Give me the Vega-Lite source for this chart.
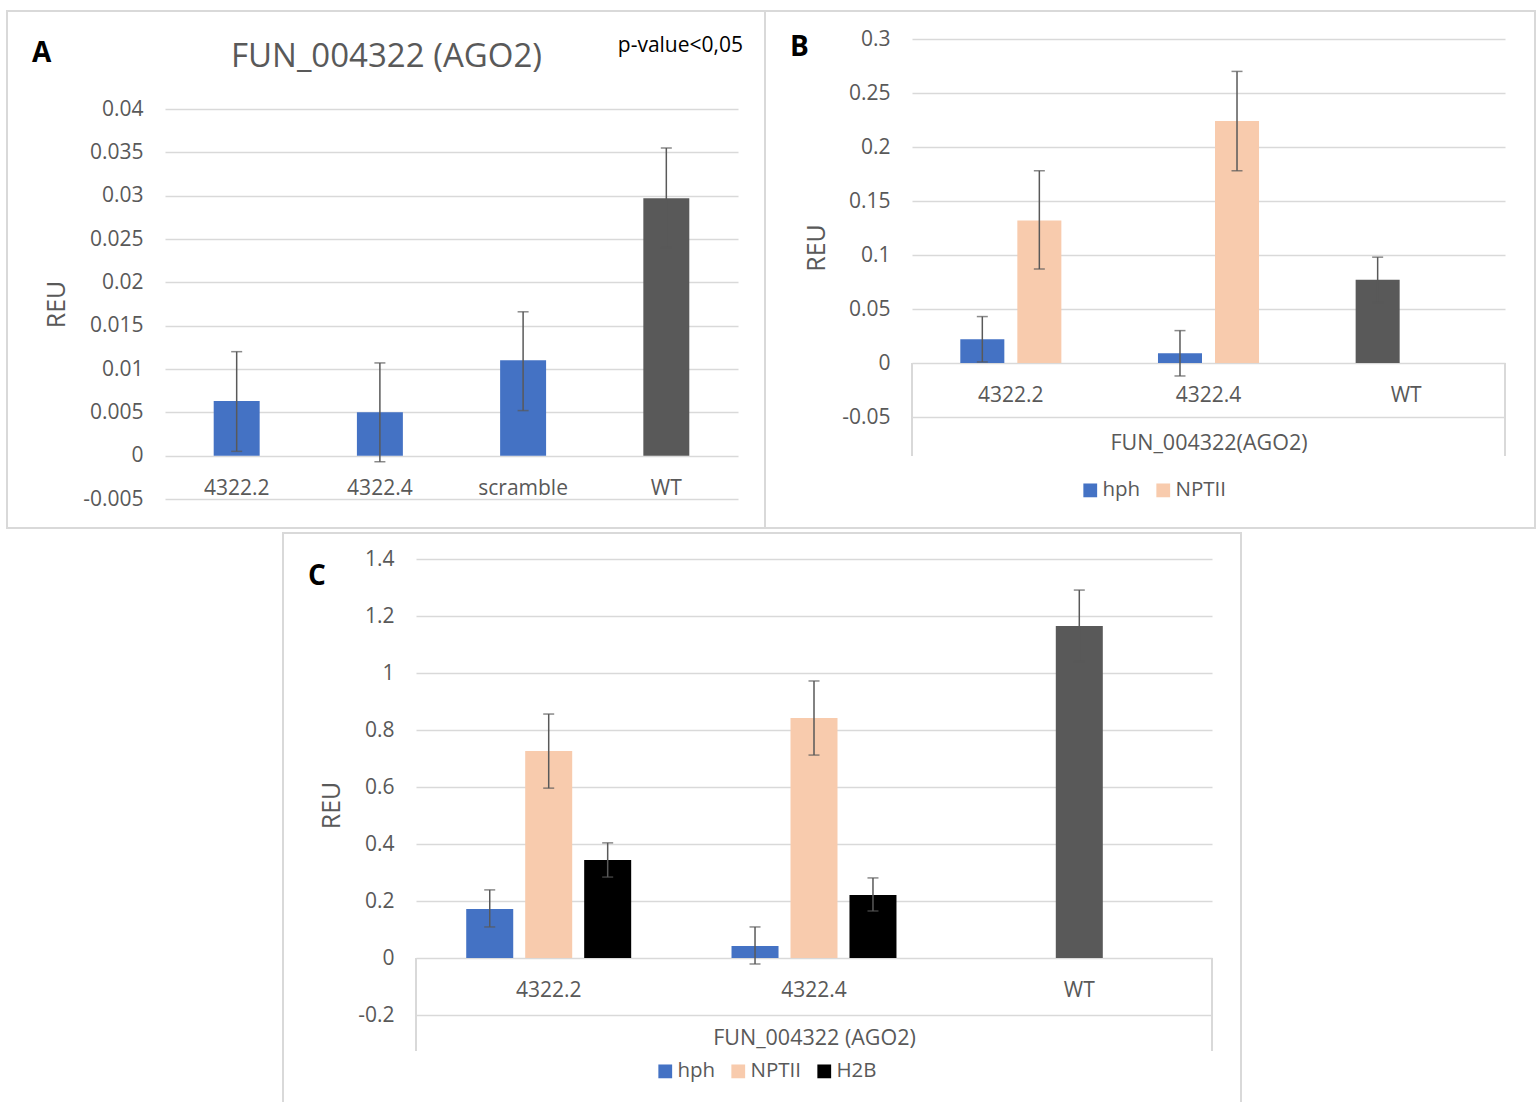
{
  "$schema": "https://vega.github.io/schema/vega-lite/v6.json",
  "padding": {"left": 6, "top": 8, "right": 0, "bottom": 0},
  "background": "white",
  "config": {
    "font": "Open Sans",
    "view": {"stroke": null},
    "axis": {"domain": false, "ticks": false, "gridColor": "#d9d9d9", "gridWidth": 1.5, "labelColor": "#595959", "labelFontSize": 21, "titleColor": "#595959", "titleFontSize": 25, "titleFontWeight": "normal", "labelPadding": 22, "labelFont": "Open Sans", "titleFont": "Open Sans"},
    "legend": {"labelFontSize": 20.5, "labelColor": "#595959", "symbolType": "square", "symbolSize": 190, "symbolStrokeWidth": 0, "title": null, "orient": "none", "direction": "horizontal", "labelOffset": 2, "columnPadding": 12, "padding": 0}
  },
  "resolve": {"scale": {"color": "independent", "xOffset": "independent"}, "legend": {"color": "independent"}},
  "columns": 1,
  "spacing": {"row": 1, "column": 0},
  "concat": [
    {
      "columns": 2,
      "align": "none",
      "spacing": {"row": 0, "column": -2},
      "resolve": {"scale": {"color": "independent", "xOffset": "independent"}, "legend": {"color": "independent"}},
      "concat": [
        {"width": 10, "height": 1, "data": {"values": []}, "mark": "point"},
        {"width": 10, "height": 1, "data": {"values": []}, "mark": "point"},
        {
          "width": 573,
          "height": 390,
          "resolve": {"scale": {"x": "independent"}},
          "layer": [
            {
              "data": {"values": [
                {"sample": "4322.2", "value": 0.0063, "lo": 0.0005, "hi": 0.0120},
                {"sample": "4322.4", "value": 0.0050, "lo": -0.0007, "hi": 0.0107},
                {"sample": "scramble", "value": 0.0110, "lo": 0.0052, "hi": 0.0166},
                {"sample": "WT", "value": 0.0297, "lo": 0.0240, "hi": 0.0355}
              ]},
              "encoding": {
                "x": {"field": "sample", "type": "nominal", "sort": null, "title": null,
                  "scale": {"paddingInner": 0.679, "paddingOuter": 0.34},
                  "axis": {"labelAngle": 0, "offset": -43, "labelPadding": 32, "labelBaseline": "middle", "grid": false}}
              },
              "layer": [
                {"mark": {"type": "bar"},
                 "encoding": {
                   "y": {"field": "value", "type": "quantitative", "title": "REU",
                     "scale": {"domain": [-0.005, 0.04], "nice": false, "zero": false},
                     "axis": {"values": [-0.005, 0, 0.005, 0.01, 0.015, 0.02, 0.025, 0.03, 0.035, 0.04], "titlePadding": 13,
                       "labelExpr": "datum.value < 0 ? '-' + format(-datum.value, '~g') : format(datum.value, '~g')"}},
                   "color": {"condition": {"test": "datum.sample === 'WT'", "value": "#595959"}, "value": "#4472C4"}
                 }},
                {"mark": {"type": "rule", "color": "#595959", "strokeWidth": 1.5},
                 "encoding": {"y": {"field": "lo", "type": "quantitative", "title": "REU"}, "y2": {"field": "hi"}}},
                {"mark": {"type": "tick", "color": "#595959", "thickness": 1.5, "size": 11},
                 "encoding": {"y": {"field": "lo", "type": "quantitative", "title": "REU"}}},
                {"mark": {"type": "tick", "color": "#595959", "thickness": 1.5, "size": 11},
                 "encoding": {"y": {"field": "hi", "type": "quantitative", "title": "REU"}}}
              ]
            },
            {
              "data": {"values": [{}]},
              "mark": {"type": "rect", "fill": "transparent", "stroke": "#d9d9d9", "strokeWidth": 2},
              "encoding": {
                "x": {"datum": -0.27574, "type": "quantitative", "scale": {"domain": [0, 1], "nice": false, "zero": false}, "axis": null},
                "x2": {"datum": 1.04712},
                "y": {"datum": 0.051308},
                "y2": {"datum": -0.008346}
              }
            },
            {
              "data": {"values": [{}]},
              "mark": {"type": "text", "align": "left", "baseline": "alphabetic", "fontSize": 28, "fontWeight": "bold", "color": "#000000"},
              "encoding": {
                "x": {"datum": -0.23211, "type": "quantitative", "scale": {"domain": [0, 1], "nice": false, "zero": false}, "axis": null},
                "y": {"datum": 0.045423},
                "text": {"value": "A"}
              }
            },
            {
              "data": {"values": [{}]},
              "mark": {"type": "text", "align": "center", "baseline": "alphabetic", "fontSize": 33, "color": "#595959"},
              "encoding": {
                "x": {"datum": 0.38656, "type": "quantitative", "scale": {"domain": [0, 1], "nice": false, "zero": false}, "axis": null},
                "y": {"datum": 0.044846},
                "text": {"value": "FUN_004322 (AGO2)"}
              }
            },
            {
              "data": {"values": [{}]},
              "mark": {"type": "text", "align": "right", "baseline": "alphabetic", "fontSize": 21, "color": "#000000"},
              "encoding": {
                "x": {"datum": 1.00873, "type": "quantitative", "scale": {"domain": [0, 1], "nice": false, "zero": false}, "axis": null},
                "y": {"datum": 0.046577},
                "text": {"value": "p-value<0,05"}
              }
            }
          ]
        },
        {
          "width": 593,
          "height": 417,
          "resolve": {"scale": {"x": "independent"}},
          "layer": [
            {
              "data": {"values": [
                {"sample": "4322.2", "series": "hph", "value": 0.022, "lo": 0.001, "hi": 0.043},
                {"sample": "4322.2", "series": "NPTII", "value": 0.132, "lo": 0.087, "hi": 0.178},
                {"sample": "4322.4", "series": "hph", "value": 0.009, "lo": -0.012, "hi": 0.030},
                {"sample": "4322.4", "series": "NPTII", "value": 0.224, "lo": 0.178, "hi": 0.270},
                {"sample": "WT", "series": "hph", "value": 0.077, "lo": 0.056, "hi": 0.098}
              ]},
              "encoding": {
                "x": {"field": "sample", "type": "nominal", "sort": null, "title": "FUN_004322(AGO2)",
                  "scale": {"domain": ["4322.2", "4322.4", "WT"], "paddingInner": 0.423, "paddingOuter": 0.2115},
                  "axis": {"labelAngle": 0, "offset": -93, "labelPadding": 32, "labelBaseline": "middle", "grid": false, "titleFontSize": 21.5, "titlePadding": 27}},
                "xOffset": {"field": "series", "type": "nominal", "scale": {"domain": ["hph", "NPTII"], "paddingInner": 0.228, "paddingOuter": 0.114}}
              },
              "layer": [
                {"mark": {"type": "bar"},
                 "encoding": {
                   "y": {"field": "value", "type": "quantitative", "title": "REU",
                     "scale": {"domain": [-0.0861, 0.3], "nice": false, "zero": false},
                     "axis": {"values": [-0.05, 0, 0.05, 0.1, 0.15, 0.2, 0.25, 0.3], "titlePadding": 12,
                       "labelExpr": "datum.value < 0 ? '-' + format(-datum.value, '~g') : format(datum.value, '~g')"}},
                   "color": {"field": "series", "type": "nominal",
                     "scale": {"domain": ["hph", "NPTII"], "range": ["#4472C4", "#F8CBAD"]},
                     "legend": {"orient": "none", "legendX": 168, "legendY": 441, "direction": "horizontal"},
                     "condition": {"test": "datum.sample === 'WT'", "value": "#595959"}}
                 }},
                {"mark": {"type": "rule", "color": "#595959", "strokeWidth": 1.5},
                 "encoding": {"y": {"field": "lo", "type": "quantitative", "title": "REU"}, "y2": {"field": "hi"}}},
                {"mark": {"type": "tick", "color": "#595959", "thickness": 1.5, "size": 11},
                 "encoding": {"y": {"field": "lo", "type": "quantitative", "title": "REU"}}},
                {"mark": {"type": "tick", "color": "#595959", "thickness": 1.5, "size": 11},
                 "encoding": {"y": {"field": "hi", "type": "quantitative", "title": "REU"}}}
              ]
            },
            {
              "data": {"values": [{"edge": 0}, {"edge": 1}]},
              "mark": {"type": "rule", "color": "#d9d9d9", "strokeWidth": 2},
              "encoding": {
                "x": {"field": "edge", "type": "quantitative", "scale": {"domain": [0, 1], "nice": false, "zero": false}, "axis": null},
                "y": {"datum": 0},
                "y2": {"datum": -0.0861}
              }
            },
            {
              "data": {"values": [{}]},
              "mark": {"type": "rect", "fill": "transparent", "stroke": "#d9d9d9", "strokeWidth": 2},
              "encoding": {
                "x": {"datum": -0.24789, "type": "quantitative", "scale": {"domain": [0, 1], "nice": false, "zero": false}, "axis": null},
                "x2": {"datum": 1.05059},
                "y": {"datum": 0.325926},
                "y2": {"datum": -0.152778}
              }
            },
            {
              "data": {"values": [{}]},
              "mark": {"type": "text", "align": "left", "baseline": "alphabetic", "fontSize": 28, "fontWeight": "bold", "color": "#000000"},
              "encoding": {
                "x": {"datum": -0.20573, "type": "quantitative", "scale": {"domain": [0, 1], "nice": false, "zero": false}, "axis": null},
                "y": {"datum": 0.284259},
                "text": {"value": "B"}
              }
            }
          ]
        }
      ]
    },
    {
      "columns": 2,
      "spacing": {"row": 0, "column": 0},
      "resolve": {"scale": {"color": "independent", "xOffset": "independent"}, "legend": {"color": "independent"}},
      "concat": [
        {"width": 116, "height": 1, "data": {"values": []}, "mark": "point"},
        {
          "width": 796,
          "height": 492,
          "resolve": {"scale": {"x": "independent"}},
          "layer": [
            {
              "data": {"values": [
                {"sample": "4322.2", "series": "hph", "value": 0.172, "lo": 0.109, "hi": 0.239},
                {"sample": "4322.2", "series": "NPTII", "value": 0.726, "lo": 0.596, "hi": 0.856},
                {"sample": "4322.2", "series": "H2B", "value": 0.344, "lo": 0.284, "hi": 0.404},
                {"sample": "4322.4", "series": "hph", "value": 0.042, "lo": -0.021, "hi": 0.109},
                {"sample": "4322.4", "series": "NPTII", "value": 0.842, "lo": 0.712, "hi": 0.972},
                {"sample": "4322.4", "series": "H2B", "value": 0.221, "lo": 0.165, "hi": 0.281},
                {"sample": "WT", "series": "NPTII", "value": 1.165, "lo": 1.040, "hi": 1.291}
              ]},
              "encoding": {
                "x": {"field": "sample", "type": "nominal", "sort": null, "title": "FUN_004322 (AGO2)",
                  "scale": {"domain": ["4322.2", "4322.4", "WT"], "paddingInner": 0.333, "paddingOuter": 0.1667},
                  "axis": {"labelAngle": 0, "offset": -93, "labelPadding": 32, "labelBaseline": "middle", "grid": false, "titleFontSize": 21.5, "titlePadding": 27}},
                "xOffset": {"field": "series", "type": "nominal", "scale": {"domain": ["hph", "NPTII", "H2B"], "paddingInner": 0.203, "paddingOuter": 0.1017}}
              },
              "layer": [
                {"mark": {"type": "bar"},
                 "encoding": {
                   "y": {"field": "value", "type": "quantitative", "title": "REU",
                     "scale": {"domain": [-0.3263, 1.4], "nice": false, "zero": false},
                     "axis": {"values": [-0.2, 0, 0.2, 0.4, 0.6, 0.8, 1, 1.2, 1.4], "titlePadding": 13,
                       "labelExpr": "datum.value < 0 ? '-' + format(-datum.value, '~g') : format(datum.value, '~g')"}},
                   "color": {"field": "series", "type": "nominal",
                     "scale": {"domain": ["hph", "NPTII", "H2B"], "range": ["#4472C4", "#F8CBAD", "#000000"]},
                     "legend": {"orient": "none", "legendX": 239, "legendY": 502, "direction": "horizontal"},
                     "condition": {"test": "datum.sample === 'WT'", "value": "#595959"}}
                 }},
                {"mark": {"type": "rule", "color": "#595959", "strokeWidth": 1.5},
                 "encoding": {"y": {"field": "lo", "type": "quantitative", "title": "REU"}, "y2": {"field": "hi"}}},
                {"mark": {"type": "tick", "color": "#595959", "thickness": 1.5, "size": 11},
                 "encoding": {"y": {"field": "lo", "type": "quantitative", "title": "REU"}}},
                {"mark": {"type": "tick", "color": "#595959", "thickness": 1.5, "size": 11},
                 "encoding": {"y": {"field": "hi", "type": "quantitative", "title": "REU"}}}
              ]
            },
            {
              "data": {"values": [{"edge": 0}, {"edge": 1}]},
              "mark": {"type": "rule", "color": "#d9d9d9", "strokeWidth": 2},
              "encoding": {
                "x": {"field": "edge", "type": "quantitative", "scale": {"domain": [0, 1], "nice": false, "zero": false}, "axis": null},
                "y": {"datum": 0},
                "y2": {"datum": -0.3263}
              }
            },
            {
              "data": {"values": [{}]},
              "mark": {"type": "rect", "fill": "transparent", "stroke": "#d9d9d9", "strokeWidth": 2},
              "encoding": {
                "x": {"datum": -0.16709, "type": "quantitative", "scale": {"domain": [0, 1], "nice": false, "zero": false}, "axis": null},
                "x2": {"datum": 1.03643},
                "y": {"datum": 1.49123},
                "y2": {"datum": -0.5193}
              }
            },
            {
              "data": {"values": [{}]},
              "mark": {"type": "text", "align": "left", "baseline": "alphabetic", "fontSize": 28, "fontWeight": "bold", "color": "#000000"},
              "encoding": {
                "x": {"datum": -0.13568, "type": "quantitative", "scale": {"domain": [0, 1], "nice": false, "zero": false}, "axis": null},
                "y": {"datum": 1.30877},
                "text": {"value": "C"}
              }
            }
          ]
        }
      ]
    }
  ]
}
